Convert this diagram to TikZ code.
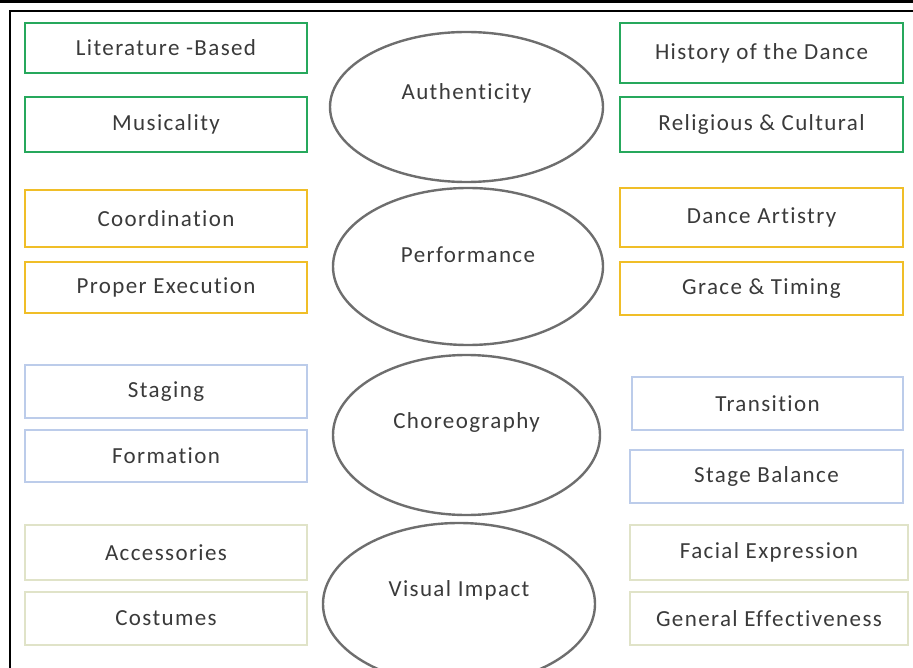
\documentclass[tikz,border=0pt]{standalone}
\usepackage{fontspec}
\setmainfont{Carlito}[LetterSpace=6, Ligatures={NoCommon,NoRequired}, RawFeature=-liga]
\usepackage{xcolor}
\usetikzlibrary{shapes.geometric}

\definecolor{grpgreen}{RGB}{38,168,92}
\definecolor{grpgold}{RGB}{240,190,40}
\definecolor{grpblue}{RGB}{188,204,234}
\definecolor{grpsand}{RGB}{224,227,200}
\definecolor{ovalgray}{RGB}{110,110,110}
\definecolor{txtgray}{RGB}{58,58,58}

\begin{document}
\begin{tikzpicture}[x=1pt, y=-1pt,
		crit/.style={draw=#1, line width=2.8pt, inner sep=0pt, text=txtgray,
			font=\fontsize{23}{27}\selectfont},
		oval/.style={ellipse, draw=ovalgray, line width=2.4pt, inner sep=0pt},
		ovaltext/.style={text=txtgray, font=\fontsize{23}{27}\selectfont}]
		%page and frame
		\useasboundingbox (0,0) rectangle (913,668);
		\clip (0,0) rectangle (913,668);
		\fill[black] (0,0) rectangle (913,3);
		\draw[line width=1.3pt] (10,668) -- (10,11) -- (913,11);
		
		%authenticity
		\node[oval, minimum width=273pt, minimum height=150pt] (auth) at (466.5,107) {};
		\node[ovaltext] (auth-t) at (466.5,93) {Authenticity};
		\node[crit=grpgreen, minimum width=282pt, minimum height=50pt] (lit) at (166,48) {Literature -Based};
		\node[crit=grpgreen, minimum width=282pt, minimum height=55pt] (music) at (166,124.5) {Musicality};
		\node[crit=grpgreen, minimum width=283pt, minimum height=60pt] (hist) at (761.5,53) {History of the Dance};
		\node[crit=grpgreen, minimum width=283pt, minimum height=55pt] (relig) at (761.5,124.5) {Religious \& Cultural};
		
		%performance
		\node[oval, minimum width=270pt, minimum height=157pt] (perf) at (468,266.5) {};
		\node[ovaltext] (perf-t) at (468,255) {Performance};
		\node[crit=grpgold, minimum width=282pt, minimum height=57pt] (coord) at (166,218.5) {Coordination};
		\node[crit=grpgold, minimum width=282pt, minimum height=51pt] (exec) at (166,287.5) {Proper Execution};
		\node[crit=grpgold, minimum width=283pt, minimum height=59pt] (art) at (761.5,217.5) {Dance Artistry};
		\node[crit=grpgold, minimum width=283pt, minimum height=53pt] (grace) at (761.5,288.5) {Grace \& Timing};
		
		%choreography
		\node[oval, minimum width=267pt, minimum height=160pt] (chor) at (466.5,435) {};
		\node[ovaltext] (chor-t) at (466.5,422) {Choreography};
		\node[crit=grpblue, minimum width=282pt, minimum height=53pt] (stag) at (166,391.5) {Staging};
		\node[crit=grpblue, minimum width=282pt, minimum height=52pt] (form) at (166,456) {Formation};
		\node[crit=grpblue, minimum width=271pt, minimum height=53pt] (trans) at (767.5,403.5) {Transition};
		\node[crit=grpblue, minimum width=273pt, minimum height=53pt] (bal) at (766.5,476.5) {Stage Balance};
		
		%visual impact
		\node[oval, minimum width=272pt, minimum height=162pt] (vis) at (459,604) {};
		\node[ovaltext] (vis-t) at (459,590) {Visual Impact};
		\node[crit=grpsand, minimum width=282pt, minimum height=55pt] (acc) at (166,552.5) {Accessories};
		\node[crit=grpsand, minimum width=282pt, minimum height=53pt] (cost) at (166,618.5) {Costumes};
		\node[crit=grpsand, minimum width=278pt, minimum height=55pt] (face) at (769,552.5) {Facial Expression};
		\node[crit=grpsand, minimum width=278pt, minimum height=53pt] (gen) at (769,618.5) {General Effectiveness};
	\end{tikzpicture}
\end{document}
